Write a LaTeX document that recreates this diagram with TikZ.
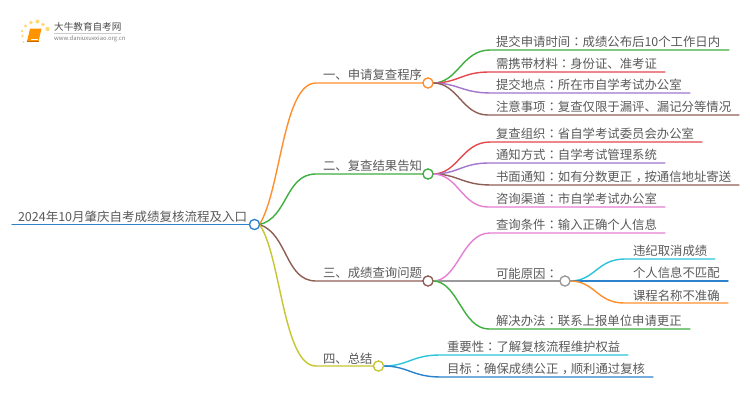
\documentclass[tikz,border=0pt]{standalone}
\usepackage{fontspec}
\setmainfont{Noto Sans CJK SC}[BoldFont={Noto Sans CJK SC}]
\newfontfamily\tcfont{Noto Sans CJK TC}
\newcommand{\cln}{{\tcfont\char"FF1A\relax}}
\newcommand{\cmm}{\hspace{.3em}\char"FF0C\relax\hspace{-.3em}}
\definecolor{cOrange}{HTML}{FF8F2E}
\definecolor{cGreen}{HTML}{3FAF3F}
\definecolor{cRed}{HTML}{E5484D}
\definecolor{cPurple}{HTML}{A276CF}
\definecolor{cBrown}{HTML}{8F5F55}
\definecolor{cPink}{HTML}{E67FD2}
\definecolor{cGray}{HTML}{9A9A9A}
\definecolor{cCyan}{HTML}{2CC5DC}
\definecolor{cBlue}{HTML}{2C83CC}
\definecolor{cOlive}{HTML}{C6C62F}
\definecolor{cText}{HTML}{5A5A5A}
\tikzset{
  x=1pt,y=-1pt,
  lab/.style={anchor=south west,inner sep=0pt,outer sep=0pt,text=cText,font=\fontsize{12.38}{14}\selectfont,yshift=2pt},
  hub/.style={circle,draw=#1,fill=white,line width=1.2pt,minimum size=10pt,inner sep=0pt,outer sep=0pt},
  wire/.style={draw=#1,line width=1.4pt,line cap=round},
}
% \bra{colour}{from}{startx}{y}{endx}{ctrl1 x}{ctrl2 x}
\newcommand{\bra}[7]{%
  \coordinate (s#2#3) at (#3,#4);
  \coordinate (e#2#3) at (#5,#4);
  \draw[wire=#1] (#2.east) .. controls (#6) and (#7) .. (s#2#3) -- (e#2#3);
}
\begin{document}
\begin{tikzpicture}
\useasboundingbox (0,0) rectangle (750,410);
\fill[white] (0,0) rectangle (750,410);

% logo
\foreach \a/\b/\r in {22.5/36/1.3,25.5/26/1.6,31/22.5/1.8,37.5/21.5/2,43/24.5/1.9,47.5/29/2.2,22/31/1.4,23.5/42/1}
  \fill[orange!55!yellow,opacity=.55] (\a,\b) circle (\r);
\fill[orange!85!yellow] (30,28.5) -- (41.5,28.5) -- (38.5,41.5) -- (27,41.5) -- cycle;
\draw[white,line width=.6pt] (31,39.5) -- (38,39.5);
\draw[orange!80!black,line width=.5pt] (27,41.5) -- (38.5,41.5);
\node[anchor=west,inner sep=0pt,text=black!70,font=\fontsize{9.6}{11}\selectfont] (logoa) at (54,27) {大牛教育自考网};
\draw[black!20,line width=.5pt] (54,33.3) -- (121,33.3);
\node[anchor=west,inner sep=0pt,text=black!50,font=\fontsize{5.9}{7}\selectfont] (logob) at (54,39) {www.daniuxuexiao.org.cn};

% hubs
\node[hub=cBlue] (root) at (254.5,224.5) {};
\node[hub=cOrange] (n1) at (428,83) {};
\node[hub=cGreen] (n2) at (428,174) {};
\node[hub=cBrown] (n3) at (428,281) {};
\node[hub=cOlive] (n4) at (378.5,366) {};
\node[hub=cGray] (n5) at (565,281) {};

% root line
\coordinate (r0) at (12,224.5);
\draw[wire=cBlue] (r0) -- (root.west);

% main branches
\draw[wire=cOrange] (root.east) .. controls (281,190) and (283,83) .. (316,83) -- (n1.west);
\draw[wire=cGreen] (root.east) .. controls (288,218) and (285,174) .. (316,174) -- (n2.west);
\draw[wire=cBrown] (root.east) .. controls (288,234) and (285,281) .. (316,281) -- (n3.west);
\draw[wire=cOlive] (root.east) .. controls (281,255) and (283,366) .. (316,366) -- (n4.west);

% leaves
\bra{cGreen}{n1}{490}{50}{729}{458,83}{462,50}
\bra{cRed}{n1}{489}{72}{665}{458,83}{462,72}
\bra{cPurple}{n1}{491}{93}{690}{458,83}{462,93}
\bra{cBrown}{n1}{488}{115}{739}{458,83}{462,115}
\bra{cRed}{n2}{490}{142}{702}{458,174}{462,142}
\bra{cPurple}{n2}{489}{163}{665}{458,174}{462,163}
\bra{cBrown}{n2}{491}{185}{739}{458,174}{462,185}
\bra{cPink}{n2}{488}{207}{665}{458,174}{462,207}
\bra{cPink}{n3}{490}{233}{665}{458,281}{462,233}
\bra{cGray}{n3}{491}{281}{560}{458,281}{462,281}
\bra{cGreen}{n3}{489}{329}{690}{458,281}{462,329}
\bra{cCyan}{n5}{625}{259}{715}{595,281}{597,259}
\bra{cBlue}{n5}{626}{281}{728}{595,281}{597,281}
\bra{cOrange}{n5}{624}{303}{728}{595,281}{597,303}
\bra{cCyan}{n4}{440}{355}{628}{408,366}{412,355}
\bra{cBlue}{n4}{441}{377}{653}{408,366}{412,377}

% redraw hubs on top
\node[hub=cBlue] at (root) {};
\node[hub=cOrange] at (n1) {};
\node[hub=cGreen] at (n2) {};
\node[hub=cBrown] at (n3) {};
\node[hub=cOlive] at (n4) {};
\node[hub=cGray] at (n5) {};

% labels
\node[lab,font=\fontsize{12.5}{14}\selectfont] (t0) at (18,224.5) {2024年10月肇庆自考成绩复核流程及入口};
\node[lab] (t1) at (323,83) {一、申请复查程序};
\node[lab] (t2) at (323,174) {二、复查结果告知};
\node[lab] (t3) at (323,281) {三、成绩查询问题};
\node[lab] (t4) at (323,366) {四、总结};
\node[lab] (a1) at (496,50) {提交申请时间\cln 成绩公布后10个工作日内};
\node[lab] (a2) at (496,72) {需携带材料\cln 身份证、准考证};
\node[lab] (a3) at (496,93) {提交地点\cln 所在市自学考试办公室};
\node[lab] (a4) at (496,115) {注意事项\cln 复查仅限于漏评、漏记分等情况};
\node[lab] (b1) at (496,142) {复查组织\cln 省自学考试委员会办公室};
\node[lab] (b2) at (496,163) {通知方式\cln 自学考试管理系统};
\node[lab] (b3) at (496,185) {书面通知\cln 如有分数更正\cmm 按通信地址寄送};
\node[lab] (b4) at (496,207) {咨询渠道\cln 市自学考试办公室};
\node[lab] (c1) at (496,233) {查询条件\cln 输入正确个人信息};
\node[lab] (c2) at (496,281) {可能原因\cln};
\node[lab] (c3) at (496,329) {解决办法\cln 联系上报单位申请更正};
\node[lab] (d1) at (633,259) {违纪取消成绩};
\node[lab] (d2) at (633,281) {个人信息不匹配};
\node[lab] (d3) at (633,303) {课程名称不准确};
\node[lab] (e1) at (447,355) {重要性\cln 了解复核流程维护权益};
\node[lab] (e2) at (447,377) {目标\cln 确保成绩公正\cmm 顺利通过复核};
\end{tikzpicture}
\end{document}
